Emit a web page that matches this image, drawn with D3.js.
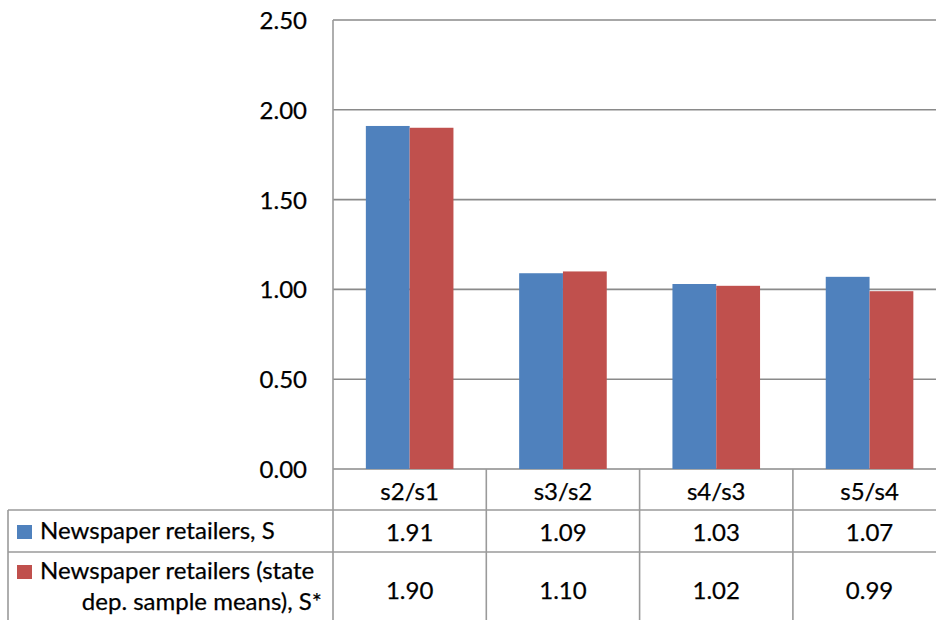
<!DOCTYPE html>
<html>
<head>
<meta charset="utf-8">
<script src="https://cdn.jsdelivr.net/npm/d3@7"></script>
<style>
  html, body { margin: 0; padding: 0; background: #fff; }
  svg { display: block; }
  text { font-family: Lato, "Open Sans", "DejaVu Sans", sans-serif; fill: #000; stroke: #000; stroke-width: 0.25px; }
</style>
</head>
<body>
<svg id="chart" width="936" height="620"></svg>
<script>
// Ratios of successive sample values, two estimates side by side
const categories = ["s2/s1", "s3/s2", "s4/s3", "s5/s4"];
const seriesNames = ["Newspaper retailers, S", "Newspaper retailers (state dep. sample means), S*"];
const seriesLegendLines = [["Newspaper retailers, S"], ["Newspaper retailers (state", "dep. sample means), S*"]];
const seriesS = [1.91, 1.09, 1.03, 1.07];
const seriesSStar = [1.90, 1.10, 1.02, 0.99];
const yTicks = [0, 0.5, 1.0, 1.5, 2.0, 2.5];
const colors = ["#4f81bd", "#c0504d"];

const series = [seriesS, seriesSStar];

const svg = d3.select("#chart");
const W = 936, H = 620;
const fontSize = 24;

// Plot area geometry
const plotLeft = 333, plotTop = 20, plotBottom = 469;
const catWidth = 153.3;
const plotRight = plotLeft + catWidth * categories.length;

const x = d3.scaleBand().domain(categories).range([plotLeft, plotRight]).padding(0);
// Gap width 150%: two bars of width w, gap 1.5w split either side
const sub = d3.scaleBand().domain(d3.range(series.length))
  .range([0, x.bandwidth()]).paddingOuter(0.75).paddingInner(0);
const y = d3.scaleLinear().domain([0, 2.5]).range([plotBottom, plotTop]);

const gridColor = "#8a8a8a";
const tableColor = "#9a9a9a";

// Horizontal gridlines
svg.append("g").selectAll("line").data(yTicks).join("line")
  .attr("x1", plotLeft).attr("x2", W + 20)
  .attr("y1", d => y(d)).attr("y2", d => y(d))
  .attr("stroke", gridColor).attr("stroke-width", 1.6);

// Y tick labels
const yAxis = d3.axisLeft(y).tickValues(yTicks).tickFormat(d3.format(".2f")).tickSize(0).tickPadding(26);
const yg = svg.append("g").attr("transform", `translate(${plotLeft},0)`).call(yAxis);
yg.select(".domain").remove();
yg.selectAll("text").attr("font-size", fontSize).attr("dy", "0.35em")
  .style("font-family", "Lato, 'Open Sans', sans-serif").attr("fill", "#000");

// Bars
const groups = svg.append("g").selectAll("g").data(categories).join("g")
  .attr("transform", d => `translate(${x(d)},0)`);
groups.selectAll("rect")
  .data((c, i) => series.map((s, k) => ({ k, v: s[i] })))
  .join("rect")
  .attr("x", d => sub(d.k))
  .attr("width", sub.bandwidth())
  .attr("y", d => y(d.v))
  .attr("height", d => y(0) - y(d.v))
  .attr("fill", d => colors[d.k]);

// Data table
const headerBottom = 510, row1Bottom = 552, tableLeft = 8;
const table = svg.append("g");

// Vertical dividers
const dividers = categories.map(c => x(c)).concat([plotRight]);
table.selectAll("line.v").data(dividers).join("line").attr("class", "v")
  .attr("x1", d => d).attr("x2", d => d)
  .attr("y1", (d, i) => i === 0 ? plotTop : plotBottom).attr("y2", H + 5)
  .attr("stroke", tableColor).attr("stroke-width", 1.6);
// Left border of the legend column
table.append("line").attr("x1", tableLeft).attr("x2", tableLeft)
  .attr("y1", headerBottom).attr("y2", H + 5)
  .attr("stroke", tableColor).attr("stroke-width", 1.6);
// Horizontal rows
table.selectAll("line.h").data([headerBottom, row1Bottom]).join("line").attr("class", "h")
  .attr("x1", tableLeft).attr("x2", W + 20)
  .attr("y1", d => d).attr("y2", d => d)
  .attr("stroke", tableColor).attr("stroke-width", 1.6);

// Category header labels
table.selectAll("text.cat").data(categories).join("text").attr("class", "cat")
  .attr("x", d => x(d) + x.bandwidth() / 2).attr("y", (plotBottom + headerBottom) / 2 + 1)
  .attr("text-anchor", "middle").attr("dominant-baseline", "central")
  .attr("font-size", fontSize).text(d => d);

// Value cells
const rowCenters = [531, 589];
series.forEach((s, k) => {
  table.selectAll(`text.val${k}`).data(s).join("text").attr("class", `val${k}`)
    .attr("x", (d, i) => x(categories[i]) + x.bandwidth() / 2)
    .attr("y", rowCenters[k])
    .attr("text-anchor", "middle").attr("dominant-baseline", "central")
    .attr("font-size", fontSize).text(d => d.toFixed(2));
});

// Legend keys and series names
const keyTops = [525, 565];
series.forEach((s, k) => {
  table.append("rect").attr("x", 17).attr("y", keyTops[k]).attr("width", 15).attr("height", 14)
    .attr("fill", colors[k]);
});
table.append("text").attr("x", 40).attr("y", 539).attr("font-size", fontSize)
  .text(seriesLegendLines[0][0]);
table.append("text").attr("x", 40).attr("y", 579).attr("font-size", fontSize)
  .text(seriesLegendLines[1][0]);
table.append("text").attr("x", 322).attr("y", 610).attr("text-anchor", "end").attr("font-size", fontSize)
  .text(seriesLegendLines[1][1]);
</script>
</body>
</html>
